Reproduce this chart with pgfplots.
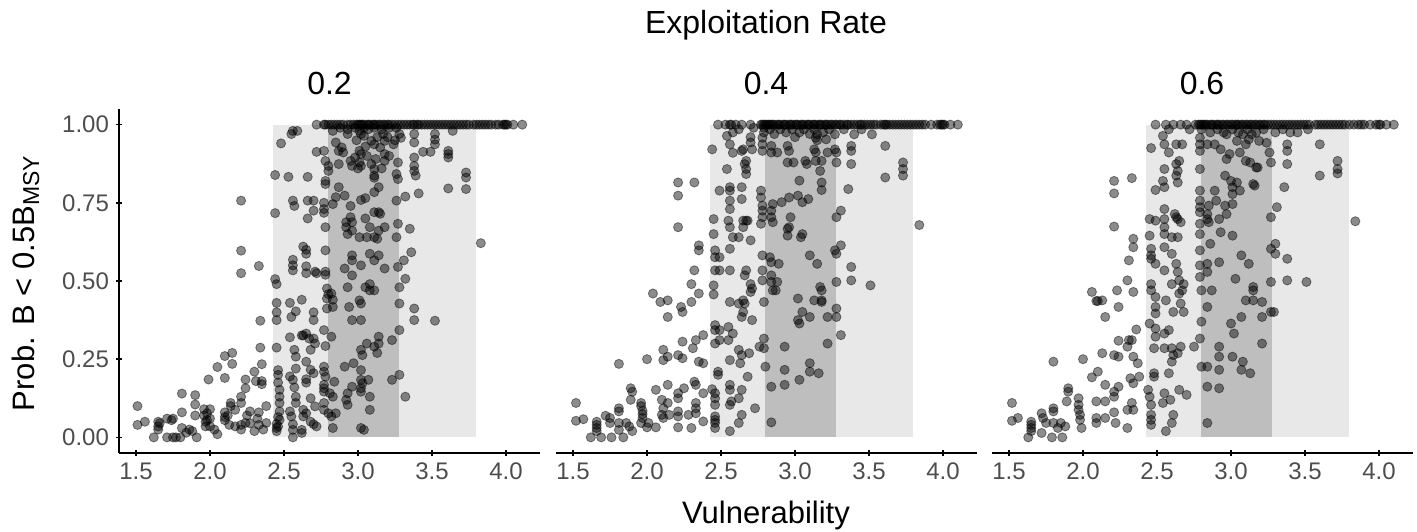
\documentclass[border=0pt]{standalone}
\usepackage{pgfplots}
\usepackage{pgfplotstable}
\pgfplotsset{compat=1.18}
\usepackage{fontspec}
\setmainfont{Liberation Sans}
\definecolor{tickc}{HTML}{4D4D4D}
\definecolor{shadeL}{HTML}{E8E8E8}
\definecolor{shadeD}{HTML}{BEBEBE}

\pgfplotstableread{
x y
1.51 0.10
1.51 0.04
1.56 0.05
1.62 0.00
1.65 0.05
1.65 0.035
1.65 0.025
1.66 0.045
1.71 0.06
1.71 0.00
1.74 0.055
1.75 0.06
1.75 0.00
1.77 0.00
1.81 0.14
1.81 0.08
1.81 0.03
1.80 0.00
1.84 0.015
1.86 0.025
1.88 0.02
1.90 0.135
1.90 0.105
1.90 0.07
1.91 0.00
1.96 0.09
1.96 0.07
1.97 0.05
1.97 0.035
1.98 0.077
1.98 0.055
1.99 0.185
2.00 0.09
2.00 0.035
2.00 0.06
2.03 0.025
2.05 0.01
2.05 0.225
2.10 0.19
2.10 0.08
2.10 0.065
2.10 0.055
2.12 0.07
2.13 0.04
2.10 0.26
2.15 0.27
2.15 0.235
2.14 0.10
2.14 0.11
2.17 0.035
2.21 0.757
2.21 0.597
2.21 0.525
2.21 0.13
2.21 0.11
2.21 0.025
2.21 0.04
2.24 0.185
2.24 0.157
2.24 0.046
2.25 0.07
2.30 0.02
2.30 0.21
2.31 0.18
2.33 0.548
2.34 0.373
2.34 0.287
2.35 0.234
2.35 0.18
2.35 0.17
2.33 0.08
2.32 0.06
2.33 0.04
2.38 0.10
2.38 0.046
2.27 0.083
2.17 0.088
2.27 0.045
2.36 0.025
2.44 0.839
2.44 0.717
2.44 0.506
2.45 0.49
2.45 0.43
2.45 0.40
2.45 0.375
2.45 0.287
2.46 0.215
2.46 0.20
2.46 0.175
2.47 0.152
2.47 0.13
2.47 0.11
2.47 0.083
2.47 0.056
2.45 0.043
2.45 0.03
2.45 0.02
2.46 0.065
2.46 0.035
2.48 0.94
2.53 0.833
2.55 0.97
2.56 0.98
2.59 0.98
2.56 0.757
2.57 0.74
2.56 0.568
2.56 0.55
2.56 0.534
2.54 0.43
2.55 0.385
2.58 0.403
2.62 0.44
2.54 0.32
2.57 0.28
2.58 0.258
2.58 0.22
2.54 0.195
2.56 0.184
2.57 0.16
2.58 0.13
2.58 0.11
2.54 0.083
2.55 0.067
2.56 0.042
2.56 0.024
2.56 0.00
2.62 0.024
2.62 0.014
2.63 0.088
2.63 0.067
2.65 0.077
2.63 0.61
2.65 0.60
2.65 0.587
2.65 0.547
2.65 0.525
2.66 0.833
2.66 0.757
2.70 0.757
2.70 0.725
2.66 0.70
2.71 0.53
2.72 0.525
2.70 0.40
2.70 0.375
2.62 0.326
2.63 0.326
2.65 0.332
2.67 0.316
2.70 0.316
2.71 0.30
2.68 0.28
2.65 0.242
2.68 0.216
2.70 0.205
2.65 0.186
2.65 0.175
2.68 0.125
2.71 0.099
2.68 0.05
2.70 0.042
2.72 0.035
2.72 0.913
2.77 0.916
2.78 0.884
2.80 0.868
2.78 0.82
2.78 0.81
2.80 0.852
2.77 0.75
2.77 0.73
2.77 0.718
2.78 0.672
2.78 0.598
2.78 0.53
2.78 0.52
2.79 0.476
2.80 0.458
2.79 0.444
2.79 0.412
2.82 0.46
2.83 0.44
2.83 0.417
2.77 0.343
2.82 0.322
2.78 0.292
2.77 0.226
2.77 0.21
2.78 0.194
2.77 0.168
2.77 0.157
2.77 0.146
2.81 0.141
2.83 0.13
2.77 0.11
2.77 0.088
2.80 0.077
2.82 0.067
2.83 0.03
2.85 0.077
2.84 0.178
2.83 0.746
2.85 0.768
2.87 0.80
2.87 0.874
2.83 0.98
2.85 0.943
2.87 0.916
2.89 0.927
2.90 0.911
2.91 0.773
2.91 0.54
2.92 0.688
2.92 0.672
2.93 0.65
2.93 0.48
2.91 0.226
2.92 0.12
2.93 0.104
2.93 0.141
2.94 0.417
2.95 0.74
2.95 0.704
2.96 0.688
2.96 0.661
2.96 0.582
2.96 0.566
2.96 0.518
2.96 0.375
2.97 0.237
2.96 0.162
2.95 0.884
2.96 0.868
2.98 0.895
2.93 0.97
3.01 0.98
3.02 0.97
3.04 0.964
3.01 0.916
3.02 0.906
3.01 0.879
3.02 0.868
3.02 0.759
3.05 0.765
3.01 0.64
3.02 0.55
3.01 0.438
3.02 0.428
3.02 0.375
3.02 0.28
3.03 0.263
3.02 0.215
3.02 0.184
3.03 0.173
3.02 0.157
3.02 0.146
3.02 0.03
3.04 0.024
3.05 0.70
3.06 0.64
3.06 0.30
3.05 0.48
3.08 0.587
3.08 0.47
3.08 0.672
3.08 0.49
3.08 0.13
3.07 0.184
3.08 0.088
3.09 0.948
3.11 0.937
3.09 0.874
3.11 0.858
3.11 0.837
3.11 0.83
3.11 0.72
3.11 0.64
3.13 0.635
3.11 0.784
3.11 0.566
3.11 0.47
3.11 0.29
3.13 0.27
3.14 0.80
3.14 0.582
3.14 0.72
3.15 0.715
3.14 0.661
3.14 0.322
3.14 0.30
3.15 0.927
3.18 0.906
3.18 0.884
3.18 0.948
3.17 0.97
3.18 0.54
3.18 0.672
3.23 0.311
3.23 0.184
3.24 0.937
3.26 0.64
3.27 0.683
3.26 0.842
3.27 0.826
3.26 0.757
3.27 0.879
3.27 0.545
3.28 0.48
3.28 0.428
3.28 0.343
3.28 0.20
3.28 0.97
3.29 0.958
3.31 0.566
3.32 0.507
3.32 0.13
3.32 0.77
3.35 0.667
3.36 0.592
3.38 0.412
3.38 0.375
3.38 0.895
3.38 0.868
3.38 0.852
3.39 0.837
3.38 0.943
3.38 0.97
3.41 0.78
3.44 0.913
3.49 0.913
3.52 0.97
3.52 0.952
3.52 0.937
3.52 0.373
3.61 0.906
3.61 0.895
3.61 0.916
3.61 0.796
3.73 0.847
3.73 0.831
3.73 0.794
3.83 0.621
3.64 0.98
2.88 0.99
2.93 0.985
2.98 0.99
3.04 0.99
3.07 0.985
3.11 0.99
3.16 0.985
3.21 0.99
3.26 0.99
2.99 0.95
3.05 0.93
3.13 0.96
3.20 0.96
3.25 0.95
3.06 0.90
3.12 0.89
3.21 0.90
3.00 0.86
3.16 0.86
2.72 1
2.77 1
2.78 1
2.80 1
2.82 1
2.84 1
2.86 1
2.88 1
2.90 1
2.93 1
2.95 1
2.97 1
2.99 1
3.00 1
3.01 1
3.02 1
3.03 1
3.04 1
3.06 1
3.07 1
3.08 1
3.10 1
3.11 1
3.12 1
3.14 1
3.15 1
3.17 1
3.18 1
3.20 1
3.21 1
3.23 1
3.25 1
3.27 1
3.29 1
3.31 1
3.33 1
3.35 1
3.37 1
3.38 1
3.40 1
3.41 1
3.43 1
3.45 1
3.47 1
3.49 1
3.51 1
3.53 1
3.55 1
3.57 1
3.59 1
3.61 1
3.63 1
3.65 1
3.67 1
3.69 1
3.71 1
3.73 1
3.75 1
3.78 1
3.80 1
3.82 1
3.84 1
3.86 1
3.88 1
3.90 1
3.93 1
3.95 1
3.98 1
3.99 1
4.00 1
4.01 1
4.05 1
4.11 1
}\dataA

\pgfplotstableread{
x y
1.52 0.11
1.52 0.053
1.57 0.058
1.62 0.00
1.66 0.05
1.66 0.04
1.66 0.03
1.66 0.02
1.72 0.069
1.75 0.062
1.75 0.046
1.76 0.00
1.69 0.00
1.81 0.235
1.81 0.093
1.81 0.083
1.81 0.046
1.81 0.024
1.84 0.00
1.86 0.046
1.88 0.035
1.89 0.157
1.90 0.146
1.89 0.12
1.90 0.02
1.96 0.11
1.96 0.10
1.97 0.085
1.97 0.074
1.97 0.062
1.96 0.046
2.00 0.25
2.00 0.032
2.01 0.046
2.04 0.46
2.06 0.152
2.06 0.032
2.09 0.433
2.11 0.28
2.11 0.247
2.10 0.12
2.11 0.093
2.10 0.072
2.11 0.062
2.14 0.438
2.14 0.385
2.14 0.258
2.14 0.168
2.14 0.11
2.15 0.072
2.21 0.815
2.21 0.773
2.21 0.672
2.21 0.263
2.21 0.141
2.21 0.125
2.21 0.083
2.21 0.067
2.21 0.032
2.23 0.417
2.24 0.401
2.24 0.306
2.24 0.253
2.25 0.157
2.28 0.072
2.30 0.49
2.30 0.433
2.31 0.285
2.32 0.815
2.32 0.534
2.32 0.178
2.33 0.168
2.33 0.11
2.33 0.093
2.33 0.077
2.35 0.614
2.35 0.598
2.35 0.46
2.33 0.311
2.35 0.242
2.38 0.327
2.38 0.237
2.38 0.141
2.38 0.051
2.30 0.03
2.45 0.65
2.46 0.598
2.46 0.576
2.46 0.534
2.45 0.486
2.45 0.457
2.45 0.698
2.46 0.359
2.46 0.343
2.46 0.30
2.44 0.154
2.46 0.141
2.46 0.125
2.46 0.104
2.46 0.067
2.46 0.056
2.46 0.046
2.46 0.03
2.44 0.921
2.48 0.21
2.48 0.20
2.49 0.343
2.49 0.311
2.49 0.534
2.49 0.576
2.49 0.789
2.54 0.964
2.56 0.937
2.54 0.858
2.56 0.80
2.56 0.789
2.56 0.757
2.56 0.73
2.55 0.693
2.56 0.672
2.58 0.64
2.56 0.603
2.56 0.534
2.56 0.433
2.55 0.353
2.58 0.332
2.55 0.311
2.56 0.247
2.56 0.168
2.56 0.152
2.57 0.115
2.56 0.104
2.56 0.02
2.58 0.91
2.62 0.64
2.64 0.916
2.64 0.80
2.64 0.762
2.64 0.072
2.62 0.046
2.62 0.428
2.64 0.385
2.62 0.28
2.64 0.263
2.63 0.237
2.64 0.152
2.62 0.125
2.65 0.921
2.66 0.874
2.67 0.858
2.67 0.842
2.67 0.884
2.65 0.693
2.67 0.693
2.65 0.672
2.65 0.438
2.66 0.428
2.65 0.401
2.66 0.518
2.67 0.534
2.68 0.693
2.68 0.194
2.69 0.269
2.70 0.63
2.70 0.943
2.71 0.921
2.70 0.49
2.70 0.465
2.71 0.476
2.71 0.375
2.73 0.093
2.76 0.29
2.77 0.789
2.77 0.767
2.78 0.741
2.78 0.725
2.78 0.704
2.77 0.683
2.78 0.582
2.78 0.534
2.78 0.502
2.79 0.433
2.79 0.316
2.79 0.285
2.80 0.226
2.84 0.048
2.84 0.162
2.83 0.576
2.84 0.56
2.84 0.518
2.84 0.497
2.85 0.47
2.84 0.704
2.85 0.688
2.85 0.746
2.84 0.725
2.79 0.99
2.79 0.975
2.78 0.958
2.78 0.937
2.78 0.916
2.84 0.932
2.84 0.911
2.88 0.911
2.87 0.47
2.88 0.497
2.89 0.555
2.91 0.752
2.95 0.645
2.95 0.667
2.96 0.767
2.96 0.672
2.97 0.704
2.93 0.29
2.93 0.216
2.93 0.168
2.95 0.932
2.96 0.916
2.95 0.879
2.99 0.879
3.02 0.773
3.03 0.821
3.04 0.64
3.05 0.65
3.05 0.752
3.02 0.444
3.02 0.375
3.03 0.364
3.05 0.401
3.03 0.184
3.07 0.884
3.08 0.874
3.09 0.762
3.10 0.582
3.10 0.237
3.10 0.21
3.10 0.385
3.13 0.921
3.14 0.911
3.14 0.884
3.14 0.958
3.15 0.969
3.15 0.555
3.13 0.438
3.16 0.205
3.17 0.481
3.18 0.47
3.18 0.438
3.18 0.433
3.18 0.815
3.18 0.791
3.17 0.852
3.18 0.884
3.22 0.30
3.22 0.385
3.22 0.911
3.21 0.953
3.27 0.969
3.27 0.921
3.28 0.911
3.28 0.879
3.28 0.704
3.27 0.598
3.28 0.587
3.28 0.497
3.28 0.412
3.28 0.385
3.31 0.614
3.31 0.327
3.31 0.725
3.36 0.794
3.38 0.932
3.38 0.916
3.38 0.874
3.38 0.545
3.38 0.502
3.40 0.969
3.52 0.969
3.51 0.486
3.61 0.932
3.61 0.831
3.73 0.879
3.73 0.858
3.73 0.837
3.84 0.679
2.72 0.99
2.83 0.985
2.86 0.97
2.90 0.985
2.94 0.975
2.98 0.985
3.00 0.96
3.03 0.975
3.06 0.985
3.10 0.97
3.13 0.985
3.15 0.95
3.19 0.975
3.23 0.985
3.33 0.985
3.45 0.985
2.62 0.985
2.58 0.975
2.70 0.96
2.48 1
2.53 1
2.56 1
2.57 1
2.60 1
2.64 1
2.70 1
2.77 1
2.78 1
2.79 1
2.80 1
2.81 1
2.82 1
2.83 1
2.84 1
2.85 1
2.86 1
2.88 1
2.89 1
2.90 1
2.92 1
2.93 1
2.94 1
2.96 1
2.97 1
2.98 1
3.00 1
3.01 1
3.02 1
3.04 1
3.05 1
3.06 1
3.08 1
3.09 1
3.10 1
3.12 1
3.13 1
3.14 1
3.16 1
3.17 1
3.18 1
3.20 1
3.21 1
3.22 1
3.24 1
3.25 1
3.27 1
3.28 1
3.30 1
3.31 1
3.33 1
3.35 1
3.36 1
3.38 1
3.40 1
3.42 1
3.44 1
3.45 1
3.47 1
3.49 1
3.51 1
3.53 1
3.55 1
3.58 1
3.60 1
3.61 1
3.62 1
3.64 1
3.66 1
3.68 1
3.70 1
3.72 1
3.74 1
3.76 1
3.78 1
3.80 1
3.82 1
3.84 1
3.86 1
3.88 1
3.92 1
3.96 1
3.98 1
3.99 1
4.00 1
4.01 1
4.05 1
4.10 1
}\dataB

\pgfplotstableread{
x y
1.52 0.11
1.52 0.053
1.56 0.062
1.63 0.00
1.65 0.05
1.65 0.04
1.65 0.03
1.65 0.02
1.72 0.077
1.73 0.062
1.72 0.014
1.75 0.046
1.79 0.00
1.80 0.242
1.80 0.093
1.80 0.083
1.80 0.046
1.83 0.03
1.86 0.00
1.85 0.046
1.88 0.035
1.90 0.157
1.90 0.146
1.89 0.115
1.97 0.125
1.97 0.104
1.97 0.088
1.98 0.072
1.98 0.056
1.99 0.03
2.00 0.25
2.06 0.465
2.06 0.192
2.09 0.436
2.10 0.436
2.10 0.21
2.09 0.062
2.09 0.046
2.09 0.115
2.13 0.438
2.15 0.385
2.13 0.269
2.15 0.168
2.15 0.115
2.15 0.062
2.21 0.82
2.21 0.78
2.21 0.674
2.21 0.263
2.21 0.146
2.21 0.13
2.21 0.08
2.23 0.47
2.24 0.417
2.24 0.309
2.24 0.258
2.24 0.162
2.22 0.046
2.30 0.03
2.30 0.502
2.30 0.29
2.31 0.311
2.33 0.829
2.33 0.311
2.31 0.566
2.34 0.608
2.34 0.635
2.34 0.465
2.32 0.189
2.34 0.173
2.33 0.11
2.34 0.088
2.34 0.258
2.36 0.345
2.37 0.237
2.38 0.194
2.30 0.088
2.44 0.152
2.45 0.698
2.45 0.645
2.46 0.603
2.46 0.582
2.46 0.571
2.46 0.49
2.46 0.47
2.45 0.364
2.48 0.205
2.48 0.194
2.45 0.13
2.46 0.104
2.46 0.072
2.46 0.056
2.46 0.04
2.46 0.925
2.49 0.791
2.49 0.693
2.49 0.555
2.49 0.449
2.49 0.417
2.49 0.396
2.49 0.348
2.49 0.322
2.48 0.285
2.54 0.964
2.55 0.937
2.58 0.911
2.55 0.858
2.54 0.82
2.55 0.80
2.55 0.73
2.55 0.698
2.55 0.672
2.55 0.65
2.55 0.608
2.55 0.534
2.56 0.438
2.55 0.332
2.55 0.285
2.58 0.343
2.58 0.205
2.55 0.141
2.54 0.11
2.59 0.12
2.56 0.02
2.61 0.072
2.60 0.046
2.60 0.49
2.60 0.64
2.60 0.587
2.61 0.401
2.60 0.285
2.61 0.263
2.60 0.242
2.63 0.937
2.63 0.874
2.64 0.852
2.63 0.837
2.64 0.815
2.65 0.884
2.62 0.714
2.63 0.704
2.64 0.698
2.66 0.688
2.64 0.64
2.63 0.555
2.64 0.529
2.65 0.46
2.66 0.428
2.65 0.152
2.70 0.136
2.66 0.29
2.64 0.269
2.65 0.502
2.67 0.937
2.67 0.47
2.68 0.49
2.68 0.401
2.75 0.29
2.79 0.958
2.79 0.937
2.79 0.916
2.79 0.858
2.79 0.789
2.79 0.757
2.79 0.736
2.79 0.72
2.79 0.683
2.79 0.65
2.79 0.598
2.79 0.55
2.79 0.513
2.80 0.47
2.80 0.37
2.79 0.316
2.80 0.226
2.84 0.046
2.84 0.162
2.84 0.226
2.84 0.417
2.84 0.529
2.84 0.555
2.84 0.698
2.85 0.688
2.85 0.741
2.84 0.714
2.86 0.619
2.87 0.47
2.89 0.789
2.90 0.757
2.92 0.698
2.93 0.656
2.92 0.56
2.92 0.29
2.92 0.258
2.92 0.216
2.92 0.157
2.96 0.837
2.96 0.741
2.97 0.714
2.97 0.89
3.00 0.82
3.01 0.80
3.01 0.778
3.01 0.645
3.01 0.746
3.00 0.364
3.02 0.332
3.03 0.507
3.01 0.258
3.04 0.815
3.06 0.789
3.07 0.582
3.07 0.385
3.07 0.216
3.08 0.242
3.12 0.555
3.10 0.438
3.13 0.205
3.15 0.481
3.15 0.47
3.15 0.438
3.15 0.81
3.16 0.805
3.21 0.30
3.21 0.385
3.21 0.433
3.27 0.603
3.27 0.497
3.27 0.401
3.29 0.401
3.30 0.619
3.30 0.587
3.31 0.736
3.27 0.704
3.36 0.80
3.38 0.571
3.38 0.502
3.38 0.937
3.38 0.916
3.38 0.874
3.51 0.497
3.60 0.937
3.60 0.837
3.72 0.884
3.72 0.858
3.72 0.844
3.84 0.691
2.97 0.969
3.04 0.948
3.08 0.969
3.10 0.937
3.12 0.953
3.14 0.969
3.19 0.948
3.24 0.942
3.26 0.911
3.27 0.879
2.93 0.921
2.99 0.906
3.06 0.911
3.10 0.884
3.13 0.879
3.17 0.863
3.18 0.863
2.89 0.937
2.84 0.937
3.40 0.975
2.72 0.985
2.80 0.985
2.86 0.975
2.91 0.985
2.95 0.975
3.01 0.985
3.05 0.975
3.11 0.985
3.17 0.975
3.22 0.985
3.30 0.975
3.35 0.985
3.45 0.975
3.52 0.985
2.58 0.985
2.49 1
2.56 1
2.61 1
2.66 1
2.70 1
2.76 1
2.78 1
2.79 1
2.80 1
2.81 1
2.82 1
2.83 1
2.84 1
2.86 1
2.87 1
2.88 1
2.90 1
2.91 1
2.92 1
2.94 1
2.95 1
2.97 1
2.98 1
3.00 1
3.01 1
3.03 1
3.04 1
3.05 1
3.07 1
3.08 1
3.10 1
3.11 1
3.13 1
3.14 1
3.16 1
3.17 1
3.19 1
3.20 1
3.22 1
3.23 1
3.25 1
3.27 1
3.29 1
3.31 1
3.33 1
3.35 1
3.37 1
3.39 1
3.41 1
3.43 1
3.45 1
3.47 1
3.49 1
3.51 1
3.53 1
3.57 1
3.59 1
3.61 1
3.63 1
3.65 1
3.67 1
3.69 1
3.71 1
3.73 1
3.75 1
3.77 1
3.80 1
3.83 1
3.86 1
3.88 1
3.90 1
3.94 1
3.98 1
4.00 1
4.01 1
4.05 1
4.10 1
}\dataC

\pgfplotsset{
  panel/.style={
    scale only axis, width=210.5pt, height=172pt,
    anchor=south west,
    xmin=1.385, xmax=4.23, ymin=-0.05, ymax=1.05,
    xtick={1.5,2,2.5,3,3.5,4},
    xticklabels={1.5,2.0,2.5,3.0,3.5,4.0},
    tick align=outside, major tick length=3pt,
    tick style={line width=0.8pt, black},
    ticklabel style={font=\fontsize{12}{14}\selectfont, text=tickc},
    clip=false,
  },
  pts/.style={only marks, mark=*, mark size=2.3pt, black,
    fill opacity=0.45, draw opacity=0.45, line width=0.4pt},
}

\begin{document}
\begin{tikzpicture}
\useasboundingbox (0,0) rectangle (708.5pt,265.5pt);

% Panel 1
\begin{axis}[panel, at={(59.5pt,39pt)},
  axis x line=bottom, axis y line=left,
  axis line style={-, line width=0.9pt, black},
  x axis line style={-}, y axis line style={-},
  xtick pos=bottom, ytick pos=left,
  ytick={0,0.25,0.5,0.75,1},
  yticklabels={0.00,0.25,0.50,0.75,1.00}]
\addplot[fill=shadeL, draw=none] coordinates {(2.425,0) (2.425,1) (3.80,1) (3.80,0)} -- cycle;
\addplot[fill=shadeD, draw=none] coordinates {(2.80,0) (2.80,1) (3.275,1) (3.275,0)} -- cycle;
\addplot[pts] table {\dataA};
\end{axis}

% Panel 2
\begin{axis}[panel, at={(278pt,39pt)},
  axis x line=bottom, axis y line=none,
  axis line style={-, line width=0.9pt, black}, x axis line style={-},
  xtick pos=bottom, ytick=\empty]
\addplot[fill=shadeL, draw=none] coordinates {(2.425,0) (2.425,1) (3.80,1) (3.80,0)} -- cycle;
\addplot[fill=shadeD, draw=none] coordinates {(2.80,0) (2.80,1) (3.275,1) (3.275,0)} -- cycle;
\addplot[pts] table {\dataB};
\end{axis}

% Panel 3
\begin{axis}[panel, at={(496pt,39pt)},
  axis x line=bottom, axis y line=none,
  axis line style={-, line width=0.9pt, black}, x axis line style={-},
  xtick pos=bottom, ytick=\empty]
\addplot[fill=shadeL, draw=none] coordinates {(2.425,0) (2.425,1) (3.80,1) (3.80,0)} -- cycle;
\addplot[fill=shadeD, draw=none] coordinates {(2.80,0) (2.80,1) (3.275,1) (3.275,0)} -- cycle;
\addplot[pts] table {\dataC};
\end{axis}

% titles
\node[anchor=base, font=\fontsize{16}{19}\selectfont] at (383pt,248.5pt) {Exploitation Rate};
\node[anchor=base, font=\fontsize{16}{19}\selectfont] at (164.75pt,218pt) {0.2};
\node[anchor=base, font=\fontsize{16}{19}\selectfont] at (383pt,218pt) {0.4};
\node[anchor=base, font=\fontsize{16}{19}\selectfont] at (601pt,218pt) {0.6};
\node[anchor=base, font=\fontsize{15.5}{18}\selectfont] at (383pt,4pt) {Vulnerability};
\node[anchor=base, rotate=90, font=\fontsize{15.5}{18}\selectfont] at (17pt,123.75pt)
  {Prob. B < 0.5B\raisebox{-2.5pt}{\fontsize{11.5}{12}\selectfont MSY}};
\end{tikzpicture}
\end{document}
